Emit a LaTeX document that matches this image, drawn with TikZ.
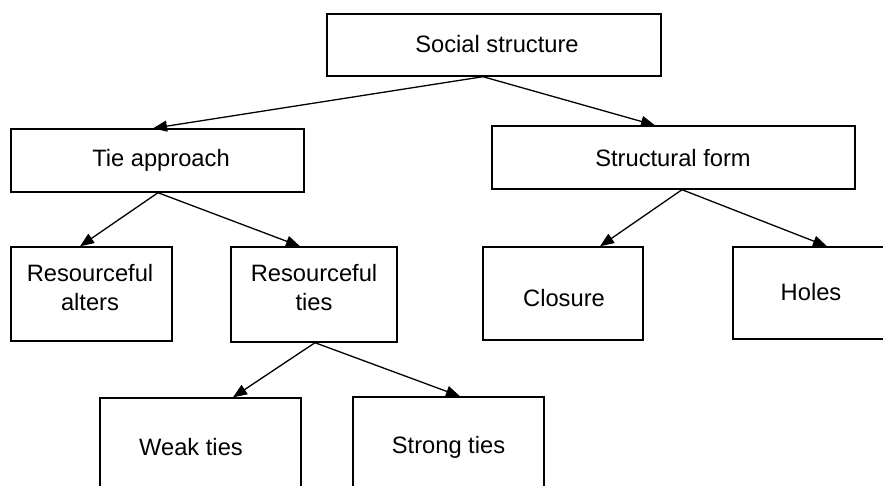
\documentclass[tikz,border=0pt]{standalone}
\usepackage{fontspec}
\setmainfont{Liberation Sans}
\usetikzlibrary{arrows.meta}
\begin{document}
\begin{tikzpicture}[x=1pt,y=-1pt,
  box/.style={draw=black,line width=1.4pt,inner sep=0pt,fill=none},
  lbl/.style={inner sep=0pt,align=center,font=\fontsize{23.7}{29}\selectfont},
  arr/.style={line width=1.3pt,-{Triangle[length=14pt,width=11pt]}}]
\clip (0,0) rectangle (883,486);
\fill[white] (0,0) rectangle (883,486);
% boxes
\node[box,minimum width=334pt,minimum height=62pt] (soc) at (494,45) {};
\node[box,minimum width=293pt,minimum height=63pt] (tie) at (157.5,160.5) {};
\node[box,minimum width=363pt,minimum height=63pt] (sf) at (673.5,157.5) {};
\node[box,minimum width=161pt,minimum height=94pt] (ra) at (91.5,294) {};
\node[box,minimum width=166pt,minimum height=95pt] (rt) at (314,294.5) {};
\node[box,minimum width=160pt,minimum height=93pt] (cl) at (563,293.5) {};
\node[box,minimum width=157pt,minimum height=92pt] (ho) at (811.5,293) {};
\node[box,minimum width=201pt,minimum height=95pt] (wk) at (200.5,445.5) {};
\node[box,minimum width=191pt,minimum height=95pt] (st) at (448.5,444.5) {};
% labels
\node[lbl] (socT) at (497,44) {Social structure};
\node[lbl] (tieT) at (161,160) {Tie approach};
\node[lbl] (sfT) at (673,158) {Structural form};
\node[lbl] (raT) at (90,287.5) {Resourceful\\alters};
\node[lbl] (rtT) at (314,287.5) {Resourceful\\ties};
\node[lbl] (clT) at (564,298) {Closure};
\node[lbl] (hoT) at (811,292) {Holes};
\node[lbl] (wkT) at (191,447) {Weak ties};
\node[lbl] (stT) at (448.5,447) {Strong ties};
% arrows
\draw[arr] ([xshift=-11pt]soc.south) -- ([xshift=-4.5pt]tie.north);
\draw[arr] ([xshift=-11pt]soc.south) -- ([xshift=-18.5pt]sf.north);
\draw[arr] ([xshift=0.5pt]tie.south) -- ([xshift=-11.5pt]ra.north);
\draw[arr] ([xshift=0.5pt]tie.south) -- ([xshift=-14pt]rt.north);
\draw[arr] ([xshift=8.5pt]sf.south) -- ([xshift=37pt]cl.north);
\draw[arr] ([xshift=8.5pt]sf.south) -- ([xshift=15.5pt]ho.north);
\draw[arr] ([xshift=1pt]rt.south) -- ([xshift=32.5pt]wk.north);
\draw[arr] ([xshift=1pt]rt.south) -- ([xshift=11.5pt]st.north);
\end{tikzpicture}
\end{document}
